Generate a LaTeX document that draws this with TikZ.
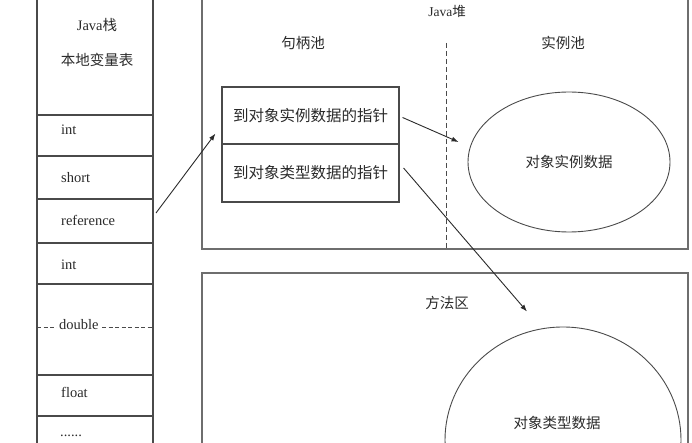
\documentclass[tikz,border=0pt]{standalone}
\usepackage{fontspec}
\setmainfont{Liberation Serif}
\newfontfamily\cjk{Noto Sans CJK SC}
\usetikzlibrary{shapes.geometric,arrows.meta}
\definecolor{ln}{HTML}{4A4A4A}
\definecolor{tx}{HTML}{2A2A2A}
\begin{document}
\begin{tikzpicture}[x=1pt,y=-1pt,
  box/.style={draw=ln,line width=1.1pt},
  lat/.style={text=tx,font=\fontsize{14.5}{16}\selectfont,anchor=west,inner sep=0pt},
  zh/.style={text=tx,font=\cjk\fontsize{14.5}{17}\selectfont,inner sep=0pt},
  cell/.style={minimum width=116pt,inner sep=0pt,outer sep=0pt},
  hrow/.style={draw=ln,line width=1.1pt,minimum width=177pt,inner sep=0pt,text=tx,font=\cjk\fontsize{15.5}{18}\selectfont},
  oval/.style={draw=ln,line width=0.9pt,ellipse,inner sep=0pt,text=tx,font=\cjk\fontsize{14.5}{17}\selectfont},
  arr/.style={draw=tx,line width=0.9pt,-{Latex[length=7pt,width=5pt]}}]
\useasboundingbox (0,0) rectangle (692,443);
\clip (0,0) rectangle (692,443);
% ---------- Java stack ----------
\draw[box] (37,-5) -- (37,450) (153,-5) -- (153,450);
\foreach \y in {115,156,199,243,284,375,416} \draw[box] (37,\y) -- (153,\y);
\node[zh] (stk1) at (97,25) {\fontspec{Liberation Serif}Java\cjk 栈};
\node[zh] (stk2) at (97,60) {本地变量表};
\node[cell,minimum height=44pt] (refcell) at (95,221) {};
\node[lat] (i1) at (61,130) {int};
\node[lat] (s1) at (61,178) {short};
\node[lat] (ref) at (61,220) {reference};
\node[lat] (i2) at (61,265) {int};
\draw[draw=ln,line width=0.9pt,dash pattern=on 4pt off 2.5pt] (37,327) -- (153,327);
\node[lat,fill=white,inner xsep=2pt] (dbl) at (57,325) {double};
\node[lat] (fl) at (61,392) {float};
\node[lat] (dots) at (60,436) {......};
% ---------- Java heap ----------
\draw[box,draw=ln!80] (202,-5) rectangle (688,249);
\node[text=tx,inner sep=0pt,font=\fontsize{13.5}{15}\selectfont] (heap) at (447,11) {Java\cjk 堆};
\draw[draw=ln,line width=0.9pt,dash pattern=on 5pt off 3pt] (446,43) -- (446,249);
\node[zh] (hpool) at (303,43) {句柄池};
\node[zh] (ipool) at (563,43) {实例池};
\node[hrow,minimum height=57pt] (h1) at (310.5,115.5) {到对象实例数据的指针};
\node[hrow,minimum height=58pt] (h2) at (310.5,173) {到对象类型数据的指针};
\node[oval,minimum width=202pt,minimum height=140pt] (inst) at (569,162) {对象实例数据};
% ---------- method area ----------
\draw[box,draw=ln!80] (202,273) rectangle (688,460);
\node[zh] (marea) at (447,303) {方法区};
\node[oval,minimum width=236pt,minimum height=226pt] (type) at (563,440) {};
\node[zh] (typelbl) at (557,423) {对象类型数据};
% ---------- connectors ----------
\draw[arr] ([xshift=3pt,yshift=8pt]refcell.east) -- ([xshift=-6pt,yshift=11pt]h1.south west);
\draw[arr] ([xshift=3pt,yshift=-2pt]h1.east) -- ([xshift=-9pt,yshift=20pt]inst.west);
\draw[arr] ([xshift=4pt,yshift=5pt]h2.east) -- ([xshift=-36pt,yshift=15pt]type.north);
\end{tikzpicture}
\end{document}
